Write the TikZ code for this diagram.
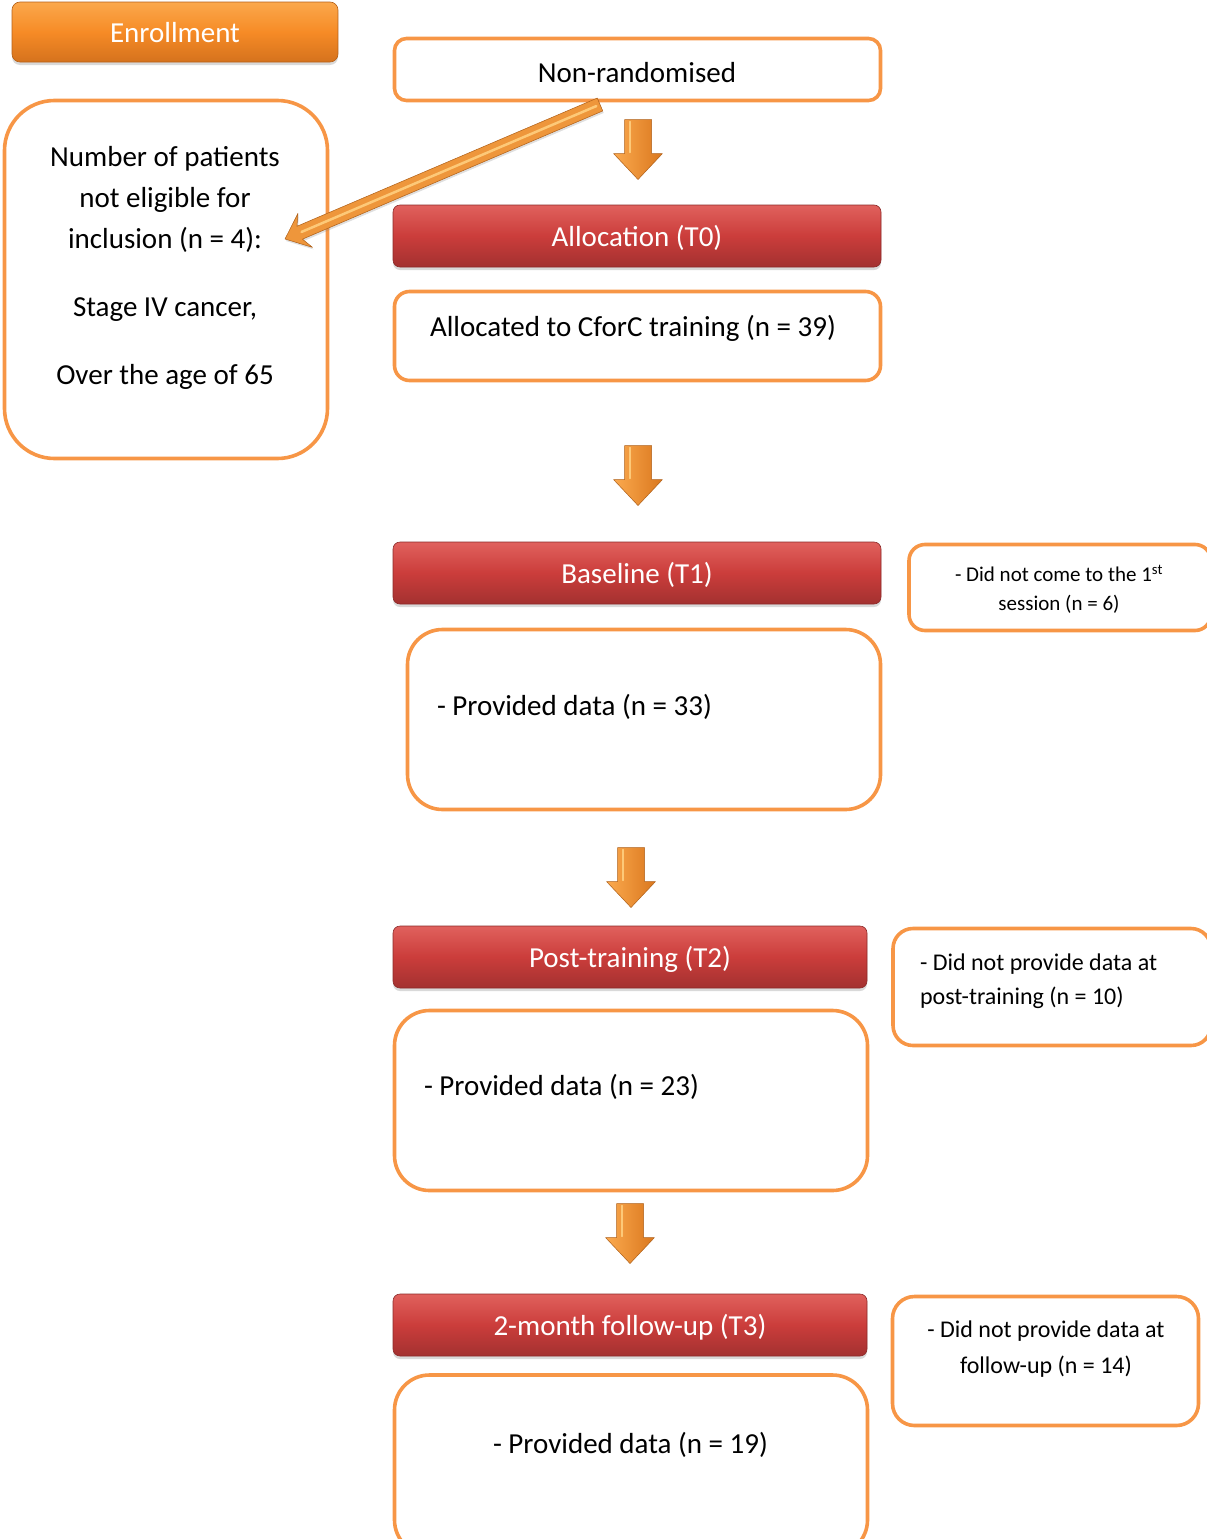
\documentclass[tikz,border=0pt]{standalone}
\usepackage{fontspec}
\setmainfont{Carlito}
\usetikzlibrary{calc,shadows}

\definecolor{boxorange}{HTML}{F79646}
\definecolor{hdrtop}{HTML}{E0615D}
\definecolor{hdrmid}{HTML}{CB3D3B}
\definecolor{hdrbot}{HTML}{A33130}
\definecolor{enrtop}{HTML}{FBA84C}
\definecolor{enrmid}{HTML}{F68B26}
\definecolor{enrbot}{HTML}{D5721D}
\definecolor{arrlight}{HTML}{FBAA4E}
\definecolor{arrdark}{HTML}{DA771E}
\definecolor{arrhi}{HTML}{FDC978}

\newcommand{\fbig}{\fontsize{29}{41}\selectfont}
\newcommand{\fside}{\fontsize{24}{34}\selectfont}
\newcommand{\fsmall}{\fontsize{21}{29}\selectfont}

\begin{document}
\begin{tikzpicture}[x=1pt,y=-1pt,
  every node/.style={inner sep=0pt, outer sep=0pt},
  outline/.style={draw=boxorange, line width=3.6pt, fill=white},
  txt/.style={font=\fbig, text height=7.5pt, text depth=2.5pt},
  glossy/.style={text=white, font=\fbig, text height=25pt, text depth=5pt,
    line width=0.6pt,
    drop shadow={opacity=0.3, shadow xshift=0pt, shadow yshift=-3pt}},
  header/.style={glossy, rounded corners=7pt, top color=hdrtop, bottom color=hdrbot,
    middle color=hdrmid, draw=hdrbot!85!black},
  enroll/.style={glossy, rounded corners=8pt, top color=enrtop, bottom color=enrbot,
    middle color=enrmid, draw=enrbot!85!black},
  downarrow/.pic={
    \shade[left color=arrlight, right color=arrdark, draw=arrdark!80!black,
      line width=0.5pt, line join=round]
      (-13.5,0) -- (13.5,0) -- (13.5,34) -- (24.5,34) -- (0,60)
      -- (-24.5,34) -- (-13.5,34) -- cycle;
    \draw[arrhi, line width=1.2pt, line cap=round] (-8,2) -- (-8,33);
  }
]
\path[use as bounding box, clip] (0,0) rectangle (1207,1539);

% enrollment column
\node[enroll, minimum width=326, minimum height=60] (enrol) at (175,32) {Enrollment};
\node[outline, rounded corners=50pt, minimum width=323, minimum height=358] (excl) at (166,279.5) {};
\node[font=\fbig, align=center, anchor=north] (excl-t) at (165,146)
  {Number of patients\\ not eligible for\\ inclusion (n = 4):\\[27pt]
   Stage IV cancer,\\[27pt] Over the age of 65};

% main flow
\node[outline, rounded corners=12pt, minimum width=486, minimum height=62] (nonrand) at (637.5,69.5) {};
\node[txt] (nonrand-t) at (637,80) {Non-randomised};

\node[header, minimum width=488, minimum height=62] (alloc) at (637,236) {Allocation (T0)};
\node[outline, rounded corners=15pt, minimum width=486, minimum height=89] (allocd) at (637.5,336) {};
\node[txt] (allocd-t) at (633,334) {Allocated to CforC training (n = 39)};

\node[header, minimum width=488, minimum height=62] (base) at (637,573) {Baseline (T1)};
\node[outline, rounded corners=35pt, minimum width=473, minimum height=180] (based) at (644,719.5) {};
\node[txt, anchor=west] (based-t) at (437,713) {- Provided data (n = 33)};

\node[header, minimum width=474, minimum height=62] (post) at (630,957) {Post-training (T2)};
\node[outline, rounded corners=35pt, minimum width=473, minimum height=180] (postd) at (631,1100.5) {};
\node[txt, anchor=west] (postd-t) at (424,1093) {- Provided data (n = 23)};

\node[header, minimum width=474, minimum height=62] (follow) at (630,1325) {2-month follow-up (T3)};
\node[outline, rounded corners=35pt, minimum width=473, minimum height=180] (followd) at (631,1465) {};
\node[txt] (followd-t) at (630.5,1451) {- Provided data (n = 19)};

% drop-outs
\node[outline, rounded corners=16pt, minimum width=302, minimum height=86] (drop1) at (1060,587.5) {};
\node[font=\fsmall, align=center, anchor=north] (drop1-t) at (1059,565)
  {- Did not come to the 1\textsuperscript{st}\\ session (n = 6)};

\node[outline, rounded corners=20pt, minimum width=318, minimum height=117] (drop2) at (1052,987) {};
\node[font=\fside, align=left, anchor=north west] (drop2-t) at (920,954)
  {- Did not provide data at\\ post-training (n = 10)};

\node[outline, rounded corners=22pt, minimum width=306, minimum height=129] (drop3) at (1045.5,1361) {};
\node[font=\fontsize{24}{36}\selectfont, align=center, anchor=north] (drop3-t) at (1046,1321)
  {- Did not provide data at\\ follow-up (n = 14)};

% block arrows between stages
\pic at ($(nonrand.south)+(0.5,19)$) {downarrow};
\pic at ($(allocd.south)+(0.5,65)$) {downarrow};
\pic at ($(based.south)+(-13,38)$) {downarrow};
\pic at ($(postd.south)+(-1,13)$) {downarrow};

% exclusion arrow from the non-randomised box to the exclusion box
\coordinate (dtail) at (600,104.5);
\coordinate (dtip) at (285,239);
\coordinate (dneck) at ($(dtip)!16pt!(dtail)$);
\coordinate (dbarb) at ($(dtip)!22pt!(dtail)$);
\filldraw[fill=arrlight!60!arrdark, draw=arrdark!80!black, line width=0.5pt, line join=round,
  drop shadow={opacity=0.25, shadow xshift=1pt, shadow yshift=-2pt}]
  ($(dtail)!7pt!90:(dtip)$) -- ($(dneck)!7pt!90:(dtip)$)
  -- ($(dbarb)!18.5pt!90:(dtip)$) -- (dtip) -- ($(dbarb)!18.5pt!-90:(dtip)$)
  -- ($(dneck)!7pt!-90:(dtip)$) -- ($(dtail)!7pt!-90:(dtip)$) -- cycle;
\draw[arrhi, line width=2.5pt, line cap=round]
  ($(dtail)!4pt!(dtip)$) -- ($(dneck)!2pt!(dtail)$);
\end{tikzpicture}
\end{document}
